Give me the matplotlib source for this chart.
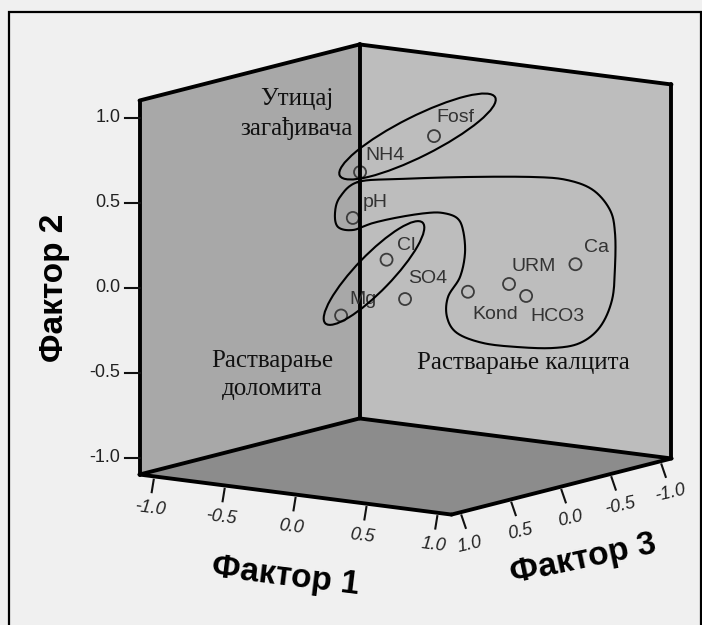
import numpy as np
import matplotlib.pyplot as plt
from matplotlib.patches import Polygon, Ellipse

# rotated factor loadings
variables = ["Fosf", "NH4", "pH", "Cl", "Mg", "SO4", "Kond", "URM", "HCO3", "Ca"]
factor1 = [0.06, -0.25, -0.16, 0.36, 0.11, 0.42, 0.80, 0.85, 0.90, 0.86]
factor2 = [0.82, 0.62, 0.39, 0.26, -0.08, 0.02, 0.09, 0.09, 0.01, 0.11]
factor3 = [-0.20, 0.10, 0.30, 0.70, 0.80, 0.60, 0.51, 0.17, 0.07, -0.48]

ticks = [-1.0, -0.5, 0.0, 0.5, 1.0]
tick_labels = ["-1.0", "-0.5", "0.0", "0.5", "1.0"]
LIM = 1.1

# parallel projection of the factor cube onto the page (pixels, y down)
ORIGIN = np.array([405.5, 279.5])
E1 = np.array([141.8, 18.2])
E2 = np.array([0.0, -170.0])
E3 = np.array([-100.0, 25.5])


def proj(f1, f2, f3):
    f1, f2, f3 = (np.asarray(v, float) for v in (f1, f2, f3))
    x = ORIGIN[0] + E1[0] * f1 + E2[0] * f2 + E3[0] * f3
    y = ORIGIN[1] + E1[1] * f1 + E2[1] * f2 + E3[1] * f3
    return x, y


def closed_spline(pts, n=16):
    pts = np.asarray(pts, float)
    m = len(pts)
    t = np.linspace(0, 1, n, endpoint=False)[:, None]
    out = []
    for i in range(m):
        p0, p1, p2, p3 = pts[(i - 1) % m], pts[i], pts[(i + 1) % m], pts[(i + 2) % m]
        out.append(0.5 * (2 * p1 + (-p0 + p2) * t
                          + (2 * p0 - 5 * p1 + 4 * p2 - p3) * t ** 2
                          + (-p0 + 3 * p1 - 3 * p2 + p3) * t ** 3))
    out = np.vstack(out)
    return np.vstack([out, out[:1]])


fig = plt.figure(figsize=(7.02, 6.25), dpi=100, facecolor="#f0f0f0")
ax = fig.add_axes([0, 0, 1, 1])
ax.set_xlim(0, 702)
ax.set_ylim(625, 0)
ax.axis("off")

# outer frame
ax.plot([9, 9, 700.5, 700.5], [640, 12, 12, 640], color="black", lw=1.6,
        solid_joinstyle="miter")

# cube corners
L_b, L_t = proj(-LIM, -LIM, LIM), proj(-LIM, LIM, LIM)
B_b, B_t = proj(-LIM, -LIM, -LIM), proj(-LIM, LIM, -LIM)
R_b, R_t = proj(LIM, -LIM, -LIM), proj(LIM, LIM, -LIM)
F_b = proj(LIM, -LIM, LIM)

ax.add_patch(Polygon([L_b, L_t, B_t, B_b], closed=True, fc="#a8a8a8", ec="none"))
ax.add_patch(Polygon([B_b, B_t, R_t, R_b], closed=True, fc="#bdbdbd", ec="none"))
ax.add_patch(Polygon([L_b, B_b, R_b, F_b], closed=True, fc="#8c8c8c", ec="none"))

edges = [(L_b, L_t), (B_b, B_t), (R_b, R_t), (L_t, B_t), (B_t, R_t),
         (L_b, B_b), (B_b, R_b), (L_b, F_b), (F_b, R_b)]
for a, b in edges:
    ax.plot([a[0], b[0]], [a[1], b[1]], color="black", lw=2.8,
            solid_capstyle="round", zorder=5)

tick_kw = dict(color="#111111", lw=1.5, zorder=5)
sans = ["Liberation Sans", "DejaVu Sans"]

# Фактор 2 (vertical)
for t, lab in zip(ticks, tick_labels):
    x, y = proj(-LIM, t, LIM)
    ax.plot([x - 15, x], [y, y], **tick_kw)
    ax.text(x - 19, y, lab, ha="right", va="center", fontsize=13,
            family=sans, color="#222222")

# Фактор 1 (front-left floor edge)
for t, lab in zip(ticks, tick_labels):
    x0, y0 = proj(t, -LIM - 0.02, LIM)
    x1, y1 = proj(t, -LIM - 0.09, LIM + 0.02)
    ax.plot([x0, x1], [y0, y1], **tick_kw)
    xl, yl = proj(t, -LIM - 0.185, LIM + 0.04)
    ax.text(xl, yl, lab, ha="center", va="center", fontsize=13, style="italic",
            rotation=-7, family=sans, color="#222222")

# Фактор 3 (front-right floor edge)
for t, lab in zip(ticks, tick_labels):
    x0, y0 = proj(LIM, -LIM - 0.02, t)
    x1, y1 = proj(LIM + 0.03, -LIM - 0.09, t)
    ax.plot([x0, x1], [y0, y1], **tick_kw)
    xl, yl = proj(LIM + 0.06, -LIM - 0.185, t)
    ax.text(xl, yl, lab, ha="center", va="center", fontsize=13, style="italic",
            rotation=13, family=sans, color="#222222")

title_kw = dict(fontsize=24, fontweight="bold", family=sans, color="black",
                ha="center", va="center")
ax.text(54, proj(-LIM, 0, LIM)[1], "Фактор 2", rotation=90, **title_kw)
ax.text(285, 577, "Фактор 1", rotation=-7, **title_kw)
ax.text(583, 559, "Фактор 3", rotation=12, **title_kw)

# loadings
px, py = proj(factor1, factor2, factor3)
ax.scatter(px, py, s=75, facecolors="none", edgecolors="#3c3c3c",
           linewidths=1.3, zorder=4)

label_offsets = {"Fosf": (2, 14), "NH4": (5, 12), "pH": (10, 11), "Cl": (10, 10),
                 "Mg": (8, 12), "SO4": (3, 16), "Kond": (4, -27), "URM": (2, 13),
                 "HCO3": (4, -25), "Ca": (9, 12)}
for name, x, y in zip(variables, px, py):
    dx, dy = label_offsets[name]
    ax.annotate(name, (x, y), xytext=(dx, dy), textcoords="offset pixels",
                ha="left", va="baseline", fontsize=14, family=sans,
                color="#333333", zorder=6)

# group outlines
line_kw = dict(fill=False, ec="black", lw=1.5, zorder=6)
ax.add_patch(Ellipse((417.5, 136.5), 174, 40, angle=-26.7, **line_kw))
ax.add_patch(Ellipse((374, 273), 140, 36, angle=-46, **line_kw))

calcite_outline = [(358, 182), (400, 179), (467, 177), (533, 177), (567, 180),
                   (593, 190), (610, 210), (615, 233), (615, 267), (612, 300),
                   (600, 327), (580, 343), (553, 348), (517, 347), (483, 343),
                   (457, 333), (447, 317), (448, 297), (460, 277), (465, 253),
                   (463, 230), (457, 218), (443, 213), (427, 213), (400, 217),
                   (373, 223), (353, 230), (338, 227), (335, 213), (340, 197)]
curve = closed_spline(calcite_outline)
ax.plot(curve[:, 0], curve[:, 1], color="black", lw=1.5, zorder=6)

serif = ["Liberation Serif", "DejaVu Serif"]
note_kw = dict(fontsize=18, family=serif, color="#111111", ha="center",
               va="baseline", zorder=6)
ax.text(297, 105, "Утицај", **note_kw)
ax.text(297, 135, "загађивача", **note_kw)
ax.text(272, 367, "Растварање", **note_kw)
ax.text(272, 395, "доломита", **note_kw)
ax.text(523, 369, "Растварање калцита", **note_kw)

fig.savefig("out.png", dpi=100, facecolor=fig.get_facecolor())
